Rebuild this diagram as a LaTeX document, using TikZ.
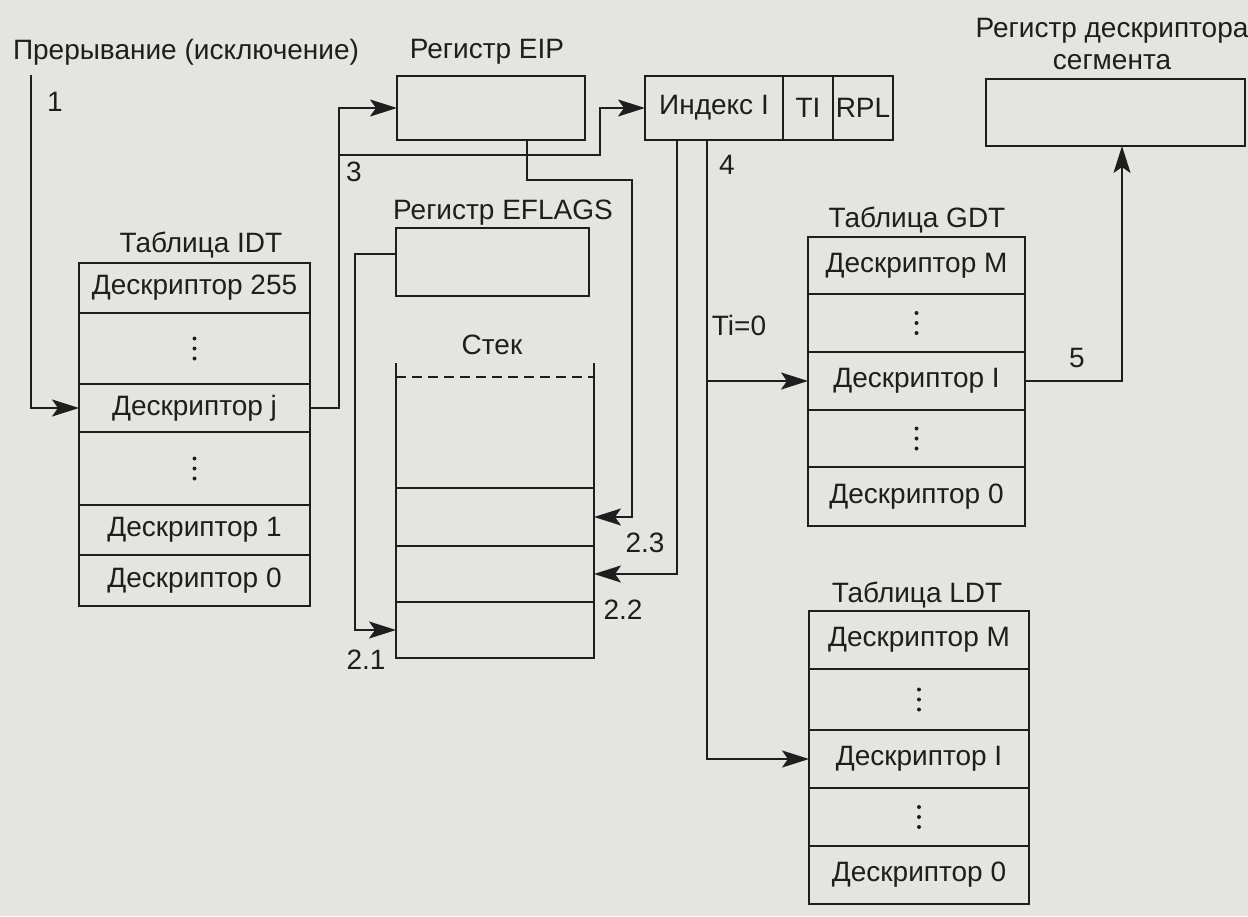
\documentclass[tikz,border=0pt]{standalone}
\usepackage{fontspec}
\setmainfont{Liberation Sans}
\usetikzlibrary{arrows.meta}
\definecolor{paper}{RGB}{228,229,224}
\definecolor{ink}{RGB}{30,30,30}
\begin{document}
\begin{tikzpicture}[x=1pt,y=-1pt,line width=2.1pt,draw=ink,
  every node/.style={font=\fontsize{28}{32}\selectfont,text=ink,inner sep=0pt},
  box/.style={draw=ink,inner sep=0pt,outer sep=0pt},
  idtrow/.style={box,minimum width=231pt,minimum height=#1},
  gdtrow/.style={box,minimum width=217pt,minimum height=#1},
  ldtrow/.style={box,minimum width=220pt,minimum height=#1},
  stkrow/.style={box,minimum width=198pt,minimum height=#1},
  arr/.style={-{Stealth[length=27pt,width=17pt,inset=6pt]}}]
\useasboundingbox (0,0) rectangle (1248,916);
\fill[paper] (0,0) rectangle (1248,916);

% IDT
\node (idtlbl) at (201,245) {Таблица IDT};
\node[idtrow=50pt] (idt255) at (194.5,288) {Дескриптор 255};
\node[idtrow=71pt] (idtd1) at (194.5,348.5) {};
\node[idtrow=48pt] (idtj) at (194.5,408) {Дескриптор j};
\node[idtrow=73pt] (idtd2) at (194.5,468.5) {};
\node[idtrow=50pt] (idt1) at (194.5,530) {Дескриптор 1};
\node[idtrow=51pt] (idt0) at (194.5,580.5) {Дескриптор 0};

% interrupt
\node (intlbl) at (186,52) {Прерывание (исключение)};
\node (one) at (55,102) {1};
\coordinate (c1) at (31,75);

% EIP
\node (eiplbl) at (487,52) {Регистр EIP};
\node[box,minimum width=188pt,minimum height=64pt] (eip) at (491,108) {};

% selector
\node[box,minimum width=138pt,minimum height=64pt] (idx) at (714,108) {Индекс I};
\node[box,minimum width=50pt,minimum height=64pt] (ti) at (808,108) {TI};
\node[box,minimum width=60pt,minimum height=64pt] (rpl) at (863,108) {RPL};

% EFLAGS
\node (eflbl) at (503,213) {Регистр EFLAGS};
\node[box,minimum width=193pt,minimum height=68pt] (eflags) at (492.5,262) {};

% stack
\node (stklbl) at (492,345) {Стек};
\node[stkrow=58pt] (slot1) at (495,517) {};
\node[stkrow=56pt] (slot2) at (495,574) {};
\node[stkrow=56pt] (slot3) at (495,630) {};
\draw (slot1.north west) -- ++(0,-125);
\draw (slot1.north east) -- ++(0,-125);
\draw[dash pattern=on 10pt off 6pt] ([yshift=111pt]slot1.north west) -- ([yshift=111pt]slot1.north east);

% GDT
\node (gdtlbl) at (917,220) {Таблица GDT};
\node[gdtrow=57pt] (gdtM) at (916.5,265.5) {Дескриптор M};
\node[gdtrow=58pt] (gdtd1) at (916.5,323) {};
\node[gdtrow=58pt] (gdtI) at (916.5,381) {Дескриптор I};
\node[gdtrow=57pt] (gdtd2) at (916.5,438.5) {};
\node[gdtrow=59pt] (gdt0) at (916.5,496.5) {Дескриптор 0};

% LDT
\node (ldtlbl) at (917,595) {Таблица LDT};
\node[ldtrow=58pt] (ldtM) at (919,640) {Дескриптор M};
\node[ldtrow=61pt] (ldtd1) at (919,699.5) {};
\node[ldtrow=58pt] (ldtI) at (919,759) {Дескриптор I};
\node[ldtrow=58pt] (ldtd2) at (919,817) {};
\node[ldtrow=58pt] (ldt0) at (919,875) {Дескриптор 0};

% vertical dots
\foreach \n in {idtd1,idtd2,gdtd1,gdtd2,ldtd1,ldtd2}{
  \foreach \d in {-10,0,10}{
    \fill[ink] ([yshift=\d pt]\n.center) circle (2pt);
  }
}

% segment descriptor register
\node[align=center] (seglbl) at (1112,44) {Регистр дескриптора\\сегмента};
\node[box,minimum width=259pt,minimum height=67pt] (segreg) at (1115.5,112.5) {};

% connectors
\draw[arr] (c1) |- (idtj.west);
\coordinate (k3) at (339,155);
\coordinate (b3) at (600,155);
\draw[arr] (idtj.east) -| (k3) |- (eip.west);
\draw[arr] (k3) -- (b3) |- (idx.west);
\node (three) at (354,172) {3};

\coordinate (k0) at (527,180);
\coordinate (k23) at (632,180);
\draw[arr] (eip.south -| k0) -- (k0) -- (k23) |- (slot1.east);
\node (l23) at (645,543) {2.3};

\coordinate (k22) at (677,577);
\draw[arr] (idx.south -| k22) |- (slot2.east);
\node (l22) at (623,610) {2.2};

\coordinate (k21) at (355,254);
\draw[arr] (eflags.west |- k21) -- (k21) |- (slot3.west);
\node (l21) at (366,660) {2.1};

\coordinate (k4) at (707,380);
\draw[arr] (idx.south -| k4) |- (ldtI.west);
\draw[arr] (gdtI.west -| k4) -- (gdtI.west);
\node (four) at (727,165) {4};
\node (tizero) at (739,325) {Ti=0};

\coordinate (k5) at (1122,377);
\draw[arr] (gdtI.east) -| (segreg.south -| k5);
\node (five) at (1077,358) {5};
\end{tikzpicture}
\end{document}
